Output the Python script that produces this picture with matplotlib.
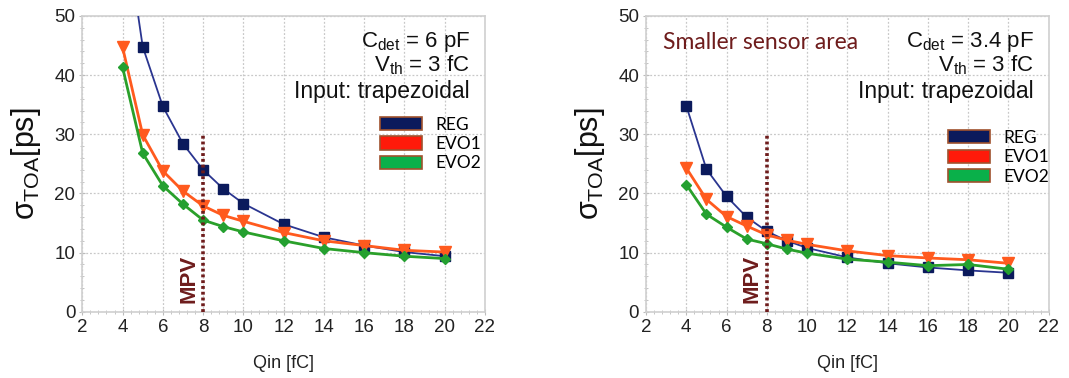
"""
Time-of-arrival jitter vs input charge for REG / EVO1 / EVO2 front-ends,
two detector capacitances side by side.
"""

import matplotlib
matplotlib.use("Agg")
import matplotlib.pyplot as plt
from matplotlib.patches import Patch
from matplotlib.ticker import MultipleLocator

plt.rcParams["font.family"] = ["Liberation Sans", "DejaVu Sans"]
plt.rcParams["mathtext.fontset"] = "custom"
plt.rcParams["mathtext.rm"] = "Liberation Sans"
plt.rcParams["mathtext.it"] = "Liberation Sans"
plt.rcParams["mathtext.sf"] = "Liberation Sans"

# input charge [fC]
qin = [4, 5, 6, 7, 8, 9, 10, 12, 14, 16, 18, 20]

# left panel: Cdet = 6 pF
reg_6pf = [68.0, 44.8, 34.7, 28.4, 24.0, 20.8, 18.3, 14.8, 12.6, 11.2, 10.1, 9.4]
evo1_6pf = [44.7, 29.9, 23.8, 20.4, 17.9, 16.3, 15.3, 13.4, 12.0, 11.2, 10.4, 10.1]
evo2_6pf = [41.3, 26.8, 21.3, 18.2, 15.5, 14.4, 13.5, 12.0, 10.7, 10.0, 9.4, 9.0]

# right panel: Cdet = 3.4 pF
reg_34pf = [34.8, 24.1, 19.5, 16.0, 13.6, 12.0, 10.8, 9.2, 8.2, 7.5, 7.0, 6.6]
evo1_34pf = [24.3, 19.0, 16.1, 14.5, 13.0, 12.1, 11.4, 10.3, 9.5, 9.1, 8.8, 8.2]
evo2_34pf = [21.5, 16.5, 14.3, 12.3, 11.5, 10.6, 9.9, 8.9, 8.4, 7.8, 8.0, 7.2]

series_names = ["REG", "EVO1", "EVO2"]
mpv = 8
mpv_top = 30

# colours
line_cols = ["#2a3590", "#ff5a1e", "#2aa02a"]
mark_cols = ["#0b1a5c", "#ff5a1e", "#24a030"]
legend_cols = ["#0b1a5c", "#ff1a0a", "#0ab04a"]
markers = ["s", "v", "D"]
msizes = [7, 8, 5.5]
lwidths = [1.3, 2.0, 2.0]
brown = "#6e1c1c"


def draw_panel(ax, ys, cdet, legend_anchor, note=None):
    for y, lc, mc, m, ms, lw in zip(ys, line_cols, mark_cols, markers, msizes, lwidths):
        ax.plot(qin, y, color=lc, linewidth=lw, marker=m, markersize=ms,
                markerfacecolor=mc, markeredgecolor=mc, zorder=3)

    # MPV marker line
    ax.plot([mpv, mpv], [0, mpv_top], color=brown, linestyle=(0, (0.8, 0.8)),
            linewidth=2.6, zorder=4)
    ax.text(mpv - 0.72, 1.5, "MPV", rotation=90, color=brown, fontsize=16,
            fontweight="bold", ha="center", va="bottom",
            family=["Liberation Sans Narrow", "Liberation Sans", "DejaVu Sans"])

    ax.set_xlim(2, 22)
    ax.set_ylim(0, 50)
    ax.xaxis.set_major_locator(MultipleLocator(2))
    ax.xaxis.set_minor_locator(MultipleLocator(0.4))
    ax.yaxis.set_major_locator(MultipleLocator(10))
    ax.yaxis.set_minor_locator(MultipleLocator(2))
    ax.tick_params(which="major", labelsize=13.5, length=4, color="#bbbbbb",
                   direction="inout", labelcolor="#222222", pad=3)
    ax.tick_params(which="minor", length=3, color="#bbbbbb", direction="inout")
    ax.grid(True, which="major", color="#c8c8c8", linestyle=(0, (1.5, 1.5)),
            linewidth=0.9)
    for s in ax.spines.values():
        s.set_color("#d0d0d0")
        s.set_linewidth(1.2)

    ax.set_xlabel("Qin [fC]", fontsize=13, labelpad=14, color="#222222")
    ax.set_ylabel(r"$\sigma_{\rm TOA}$[ps]", fontsize=22, labelpad=8,
                  color="#111111")

    ax.text(0.963, 45.6, r"C$_{\rm det}$ = " + cdet, transform=ax.get_yaxis_transform(),
            ha="right", va="center", fontsize=16, color="#111111")
    ax.text(0.963, 41.7, r"V$_{\rm th}$ = 3 fC", transform=ax.get_yaxis_transform(),
            ha="right", va="center", fontsize=16, color="#111111")
    ax.text(0.963, 37.2, "Input: trapezoidal", transform=ax.get_yaxis_transform(),
            ha="right", va="center", fontsize=16.5, color="#111111")
    if note:
        ax.text(2.85, 45.5, note, ha="left", va="center", fontsize=16.5,
                color=brown, family=["Lato", "Liberation Sans"])

    handles = [Patch(facecolor=c, edgecolor="#a0522d", linewidth=1.2)
               for c in legend_cols]
    ax.legend(handles, series_names, loc="upper left", bbox_to_anchor=legend_anchor,
              frameon=False, fontsize=12.5, handlelength=2.4, handleheight=0.8,
              handletextpad=0.8, labelspacing=0.2, borderpad=0, borderaxespad=0,
              prop={"family": ["Lato", "Liberation Sans"], "size": 12.5})


fig, (ax1, ax2) = plt.subplots(1, 2, figsize=(10.69, 3.78), dpi=100)
fig.subplots_adjust(left=0.077, right=0.981, bottom=0.175, top=0.958, wspace=0.4)

draw_panel(ax1, [reg_6pf, evo1_6pf, evo2_6pf], "6 pF", (0.74, 0.66))
draw_panel(ax2, [reg_34pf, evo1_34pf, evo2_34pf], "3.4 pF", (0.75, 0.615),
           note="Smaller sensor area")

fig.savefig("out.png", dpi=100)
